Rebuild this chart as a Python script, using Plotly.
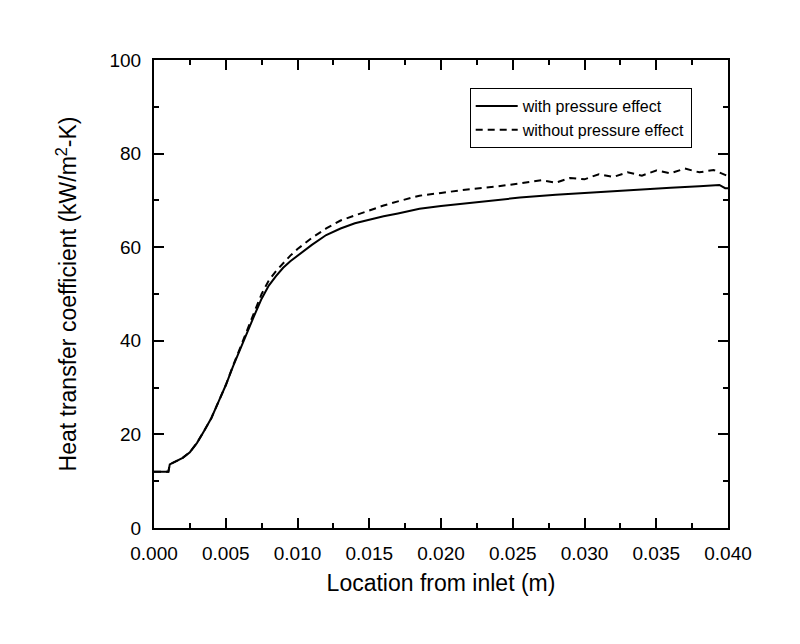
import plotly.graph_objects as go

x_with = [0, 0.001, 0.0011, 0.0015, 0.002, 0.0025, 0.003, 0.0035, 0.004, 0.0045, 0.005,
          0.0055, 0.006, 0.0065, 0.007, 0.0075, 0.008, 0.0085, 0.009, 0.0095, 0.010,
          0.011, 0.012, 0.013, 0.014, 0.015, 0.016, 0.017, 0.0185, 0.020, 0.022, 0.024,
          0.0255, 0.028, 0.030, 0.0325, 0.034, 0.036, 0.038, 0.0394, 0.0398, 0.040]
y_with = [12.0, 12.0, 13.6, 14.3, 15.0, 16.2, 18.2, 20.8, 23.5, 27.0, 30.5,
          34.5, 38.3, 41.8, 45.5, 49.0, 51.8, 53.8, 55.6, 57.0, 58.2,
          60.5, 62.6, 64.0, 65.1, 65.9, 66.6, 67.2, 68.2, 68.8, 69.5, 70.1,
          70.6, 71.2, 71.6, 72.1, 72.4, 72.7, 73.0, 73.3, 72.6, 72.6]

x_without = [0, 0.001, 0.0011, 0.0015, 0.002, 0.0025, 0.003, 0.0035, 0.004, 0.0045, 0.005,
             0.0055, 0.006, 0.0065, 0.007, 0.0075, 0.008, 0.0085, 0.009, 0.0095, 0.010,
             0.011, 0.012, 0.013, 0.014, 0.015, 0.016, 0.017, 0.0185, 0.020, 0.022, 0.024,
             0.0255, 0.027, 0.028, 0.029, 0.030, 0.031, 0.032, 0.033, 0.034, 0.035,
             0.036, 0.037, 0.038, 0.039, 0.040]
y_without = [12.0, 12.0, 13.6, 14.3, 15.0, 16.2, 18.2, 20.8, 23.5, 27.0, 30.5,
             34.6, 38.6, 42.3, 46.2, 50.0, 52.9, 54.9, 56.6, 58.2, 59.6,
             62.0, 64.0, 65.7, 66.8, 67.9, 68.9, 69.8, 71.0, 71.6, 72.4, 73.0,
             73.7, 74.3, 73.8, 74.8, 74.5, 75.6, 75.0, 76.0, 75.3, 76.4,
             75.8, 76.8, 76.0, 76.5, 75.2]

x_ticks = [0.000, 0.005, 0.010, 0.015, 0.020, 0.025, 0.030, 0.035, 0.040]
x_tick_labels = ["0.000", "0.005", "0.010", "0.015", "0.020", "0.025", "0.030", "0.035", "0.040"]
y_ticks = [0, 20, 40, 60, 80, 100]

fig = go.Figure()
fig.add_trace(go.Scatter(x=x_with, y=y_with, mode="lines", name="with pressure effect",
                         line=dict(color="black", width=2)))
fig.add_trace(go.Scatter(x=x_without, y=y_without, mode="lines", name="without pressure effect",
                         line=dict(color="black", width=2, dash="7px,5px")))

axis_common = dict(showgrid=False, zeroline=False, showline=True, linecolor="black",
                   linewidth=2, mirror="ticks", ticks="inside", ticklen=10, tickwidth=2,
                   tickcolor="black", tickfont=dict(size=19, color="black"),
                   ticklabelstandoff=7)

fig.update_xaxes(range=[0, 0.04], tickvals=x_ticks, ticktext=x_tick_labels,
                 title=dict(text="Location from inlet (m)", font=dict(size=23, color="black"), standoff=12),
                 minor=dict(dtick=0.0025, ticks="inside", ticklen=5, tickwidth=2, tickcolor="black"),
                 **axis_common)
fig.update_yaxes(range=[0, 100], tickvals=y_ticks,
                 title=dict(text="Heat transfer coefficient (kW/m<sup>2</sup>-K)",
                            font=dict(size=23, color="black"), standoff=26),
                 minor=dict(dtick=10, ticks="inside", ticklen=5, tickwidth=2, tickcolor="black"),
                 **axis_common)

fig.update_layout(
    width=800, height=644,
    margin=dict(l=154, r=72, t=60, b=116),
    paper_bgcolor="white", plot_bgcolor="white",
    font=dict(family="Liberation Sans, Arial, sans-serif", color="black"),
    legend=dict(x=0.55, y=0.94, xanchor="left", yanchor="top",
                bgcolor="white", bordercolor="black", borderwidth=1,
                font=dict(size=16, color="black"), tracegroupgap=0, itemwidth=42),
    showlegend=True,
)

fig.write_html("out.html")
